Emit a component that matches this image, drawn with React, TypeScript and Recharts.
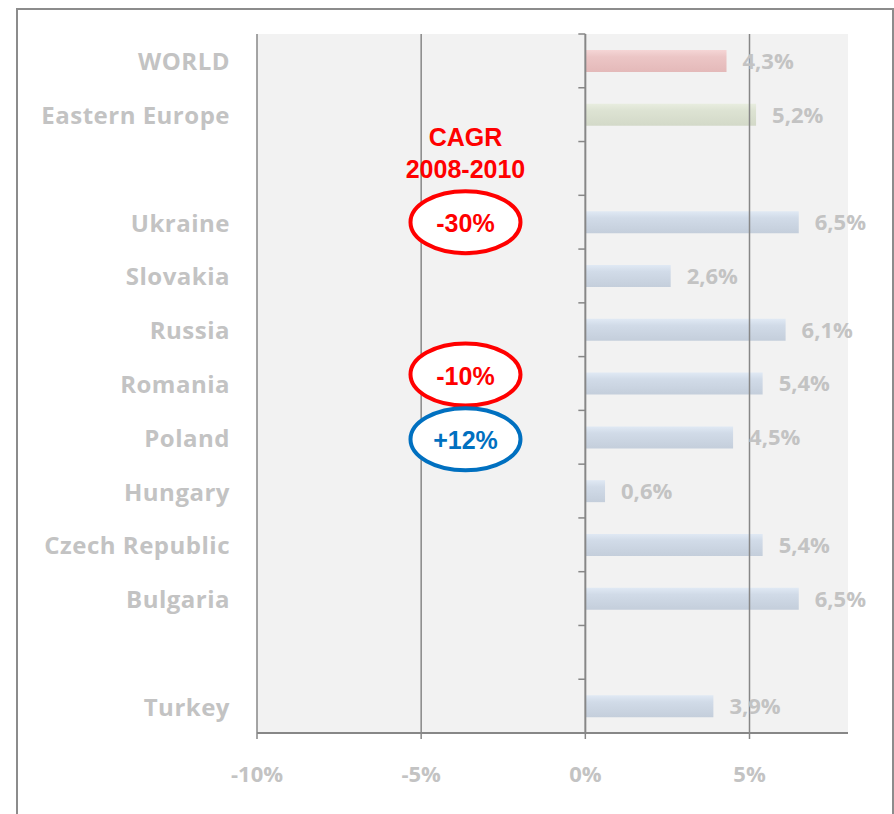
import React from "react";
import {
  BarChart,
  Bar,
  XAxis,
  YAxis,
  CartesianGrid,
  ReferenceLine,
  ReferenceDot,
  LabelList,
  Cell,
} from "recharts";

// ---------- data ----------
const categoryKeys = [
  "world",
  "eastern",
  "gap1",
  "ukraine",
  "slovakia",
  "russia",
  "romania",
  "poland",
  "hungary",
  "czech",
  "bulgaria",
  "gap2",
  "turkey",
];
const categoryLabels = [
  "WORLD",
  "Eastern Europe",
  "",
  "Ukraine",
  "Slovakia",
  "Russia",
  "Romania",
  "Poland",
  "Hungary",
  "Czech Republic",
  "Bulgaria",
  "",
  "Turkey",
];
const growthValues: (number | null)[] = [
  4.3, 5.2, null, 6.5, 2.6, 6.1, 5.4, 4.5, 0.6, 5.4, 6.5, null, 3.9,
];
const barGroups = [
  "world",
  "region",
  "none",
  "country",
  "country",
  "country",
  "country",
  "country",
  "country",
  "country",
  "country",
  "none",
  "country",
];
const xTicks = [-10, -5, 0, 5];
const xDomain: [number, number] = [-10, 8];

const cagrTitle = ["CAGR", "2008-2010"];
const cagrTitleRow = "gap1";
const cagrX = -3.65;
const cagrBadges = [
  { row: "ukraine", text: "-30%", color: "#ff0000", dy: 0 },
  { row: "romania", text: "-10%", color: "#ff0000", dy: -9 },
  { row: "poland", text: "+12%", color: "#0070c0", dy: 2 },
];

const rows = categoryKeys.map((key, i) => ({
  key,
  label: categoryLabels[i],
  value: growthValues[i],
  group: barGroups[i],
}));

// ---------- layout ----------
const CHART_W = 894;
const CHART_H = 814;
const MARGIN = { top: 34, right: 46, bottom: 51, left: 0 };
const Y_AXIS_W = 257;
const X_AXIS_H = 30;
const PLOT_W = CHART_W - MARGIN.left - MARGIN.right - Y_AXIS_W;
const PLOT_H = CHART_H - MARGIN.top - MARGIN.bottom - X_AXIS_H;
const PLOT_LEFT = MARGIN.left + Y_AXIS_W;
const ZERO_X =
  PLOT_LEFT + ((0 - xDomain[0]) / (xDomain[1] - xDomain[0])) * PLOT_W;
const BAND = PLOT_H / rows.length;

const AXIS_GREY = "#878787";
const TEXT_GREY = "#c3c3c3";
const LABEL_FONT = "'Open Sans', 'DejaVu Sans', sans-serif";
const NOTE_FONT = "'Liberation Sans', Arial, sans-serif";

const labelFor = (key: string) => {
  const r = rows.find((d) => d.key === key);
  return r ? r.label : "";
};

function CategoryTick(props: any) {
  const { x, y, payload, index } = props;
  const half = BAND / 2;
  return (
    <g>
      <text
        x={x}
        y={y}
        textAnchor="end"
        dominantBaseline="central"
        fill={TEXT_GREY}
        fontSize={24}
        letterSpacing={0.5}
        fontWeight={700}
        fontFamily={LABEL_FONT}
      >
        {labelFor(payload.value)}
      </text>
      <line
        x1={ZERO_X - 7}
        x2={ZERO_X}
        y1={y - half}
        y2={y - half}
        stroke={AXIS_GREY}
        strokeWidth={1.5}
      />
      {index === rows.length - 1 && (
        <line
          x1={ZERO_X - 7}
          x2={ZERO_X}
          y1={y + half}
          y2={y + half}
          stroke={AXIS_GREY}
          strokeWidth={1.5}
        />
      )}
    </g>
  );
}

const fmtPct = (v: any) =>
  v === null || v === undefined ? "" : Number(v).toFixed(1).replace(".", ",") + "%";

function TitleShape(props: any) {
  const { cx, cy } = props;
  return (
    <g>
      <text
        x={cx}
        y={cy - 31}
        textAnchor="middle"
        dominantBaseline="central"
        fill="#ff0000"
        fontSize={25}
        fontWeight={700}
        fontFamily={NOTE_FONT}
      >
        {cagrTitle[0]}
      </text>
      <text
        x={cx}
        y={cy + 1}
        textAnchor="middle"
        dominantBaseline="central"
        fill="#ff0000"
        fontSize={25}
        fontWeight={700}
        fontFamily={NOTE_FONT}
      >
        {cagrTitle[1]}
      </text>
    </g>
  );
}

function makeBadge(text: string, color: string, dy: number) {
  return (props: any) => {
    const { cx, cy } = props;
    const y = cy + dy;
    return (
      <g>
        <ellipse
          cx={cx}
          cy={y}
          rx={55}
          ry={31}
          fill="#ffffff"
          stroke={color}
          strokeWidth={4}
        />
        <text
          x={cx}
          y={y + 1}
          textAnchor="middle"
          dominantBaseline="central"
          fill={color}
          fontSize={25}
          fontWeight={700}
          fontFamily={NOTE_FONT}
        >
          {text}
        </text>
      </g>
    );
  };
}

export default function App() {
  return (
    <div
      style={{
        position: "absolute",
        left: 0,
        top: 0,
        width: CHART_W,
        height: CHART_H,
        background: "#ffffff",
        overflow: "hidden",
      }}
    >
      <svg width={0} height={0} style={{ position: "absolute" }}>
        <defs>
          <linearGradient id="grad-country" x1="0" y1="0" x2="0" y2="1">
            <stop offset="0%" stopColor="#e0e9f4" />
            <stop offset="30%" stopColor="#d1dbe8" />
            <stop offset="100%" stopColor="#c4cedb" />
          </linearGradient>
          <linearGradient id="grad-world" x1="0" y1="0" x2="0" y2="1">
            <stop offset="0%" stopColor="#f5d6d6" />
            <stop offset="30%" stopColor="#ecc6c6" />
            <stop offset="100%" stopColor="#e4b9b9" />
          </linearGradient>
          <linearGradient id="grad-region" x1="0" y1="0" x2="0" y2="1">
            <stop offset="0%" stopColor="#e8eddf" />
            <stop offset="30%" stopColor="#dde3d3" />
            <stop offset="100%" stopColor="#d3d9c8" />
          </linearGradient>
          <linearGradient id="grad-none" x1="0" y1="0" x2="0" y2="1">
            <stop offset="0%" stopColor="#ffffff" stopOpacity={0} />
          </linearGradient>
        </defs>
      </svg>
      <div
        style={{
          position: "absolute",
          left: 16,
          top: 8,
          width: 874,
          height: 900,
          border: "2px solid #8c8c8c",
        }}
      />
      <div style={{ position: "absolute", left: 0, top: 0 }}>
        <BarChart
          width={CHART_W}
          height={CHART_H}
          data={rows}
          layout="vertical"
          margin={MARGIN}
        >
          <CartesianGrid
            horizontal={false}
            vertical={false}
            fill="#f2f2f2"
            stroke="none"
          />
          <XAxis
            type="number"
            dataKey="value"
            domain={xDomain}
            ticks={xTicks}
            allowDataOverflow
            height={X_AXIS_H}
            tickFormatter={(v: number) => `${v}%`}
            axisLine={{ stroke: AXIS_GREY, strokeWidth: 2 }}
            tickLine={{ stroke: AXIS_GREY, strokeWidth: 1.5 }}
            tickSize={6}
            tickMargin={27}
            tick={{
              fill: TEXT_GREY,
              fontSize: 22,
              fontWeight: 700,
              fontFamily: LABEL_FONT,
            }}
          />
          <YAxis
            type="category"
            dataKey="key"
            width={Y_AXIS_W}
            interval={0}
            axisLine={false}
            tickLine={false}
            tickSize={0}
            tickMargin={27}
            tick={<CategoryTick />}
          />
          <Bar dataKey="value" barSize={22} isAnimationActive={false}>
            {rows.map((r) => (
              <Cell key={r.key} fill={`url(#grad-${r.group})`} />
            ))}
            <LabelList
              dataKey="value"
              position="right"
              offset={16}
              formatter={fmtPct}
              fill={TEXT_GREY}
              fontSize={22}
              fontWeight={700}
              fontFamily={LABEL_FONT}
            />
          </Bar>
          {xTicks
            .filter((t) => t !== 0)
            .map((t) => (
              <ReferenceLine
                key={t}
                x={t}
                stroke={AXIS_GREY}
                strokeWidth={1.5}
              />
            ))}
          <ReferenceLine x={0} stroke={AXIS_GREY} strokeWidth={2} />
          <ReferenceDot
            x={cagrX}
            y={cagrTitleRow}
            r={0}
            shape={<TitleShape />}
          />
          {cagrBadges.map((b) => {
            const Shape = makeBadge(b.text, b.color, b.dy);
            return (
              <ReferenceDot
                key={b.row}
                x={cagrX}
                y={b.row}
                r={0}
                shape={(p: any) => <Shape {...p} />}
              />
            );
          })}
        </BarChart>
      </div>
    </div>
  );
}
